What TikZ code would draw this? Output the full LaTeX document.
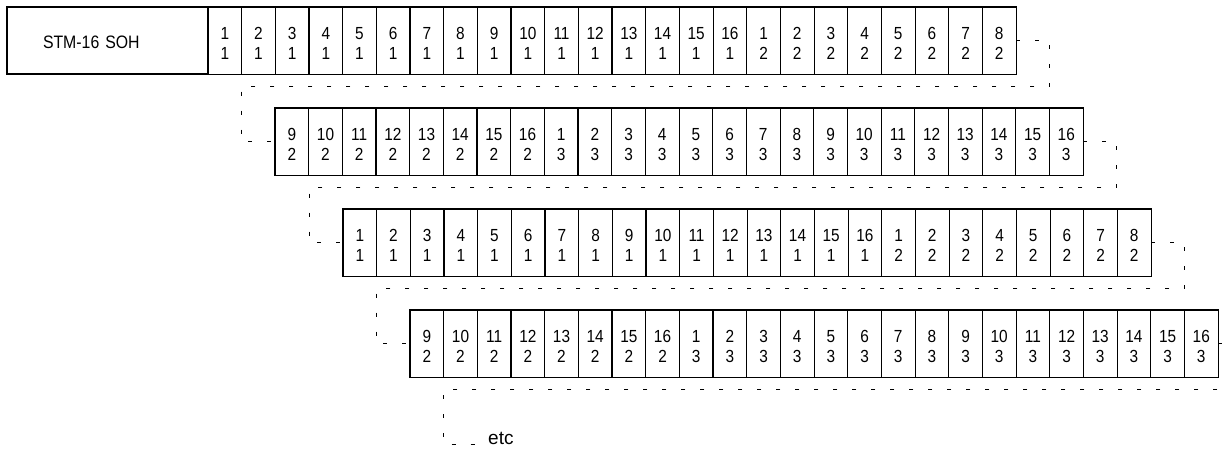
\documentclass[tikz,border=0pt]{standalone}
\usepackage{fontspec}
\setmainfont{Liberation Sans}[FakeStretch=0.88]
\newfontfamily\etcfont{Liberation Sans}
\usetikzlibrary{calc}
\begin{document}
\begin{tikzpicture}[x=1pt,y=-1pt,
  cell/.style={draw, line width=1.1pt, minimum width=33.67pt, minimum height=67.5pt,
    inner sep=0pt, outer sep=0pt, font=\fontsize{17.5}{20}\selectfont, align=center},
  conn/.style={draw, line width=1pt, dash pattern=on 4pt off 15pt}]
\useasboundingbox (0,0) rectangle (1225,448);
\clip (0,0) rectangle (1225,448);
% SOH box
\node[cell, minimum width=201pt, minimum height=67pt, text width=129pt, align=left,
  font=\fontsize{18}{20}\selectfont, anchor=north west] (soh) at (7,7) {\rule{0pt}{17pt}STM-16 SOH};
% cell rows
\foreach \r/\x/\y/\off/\b in {1/208/7/0/1, 2/275/108/8/2, 3/343/209/0/1, 4/410/310/8/2} {
  \foreach \i in {1,...,24} {
    \pgfmathtruncatemacro\nn{\i+\off}
    \pgfmathtruncatemacro\toplab{\nn>16 ? \nn-16 : \nn}
    \pgfmathtruncatemacro\botlab{\nn>16 ? \b+1 : \b}
    \node[cell, anchor=north west] (r\r-\i) at ({\x+(\i-1)*33.67},\y) {\rule{0pt}{17.1pt}\toplab\\\botlab};
  }
}
% connectors
\draw[conn] (r1-24.east) -- ++(33.67,0) |- ([xshift=-33.67pt,yshift=55pt]r2-1.west) |- (r2-1.west);
\draw[conn] (r2-24.east) -- ++(33.67,0) |- ([xshift=-33.67pt,yshift=55pt]r3-1.west) |- (r3-1.west);
\draw[conn] (r3-24.east) -- ++(33.67,0) |- ([xshift=-33.67pt,yshift=55pt]r4-1.west) |- (r4-1.west);
\node[anchor=base west, font=\etcfont\fontsize{19}{20}\selectfont, inner sep=0pt] (etc) at (488,444) {etc};
\coordinate (tail) at (478,444);
\draw[conn] (r4-24.east) -- ++(33.67,0) |- ([xshift=33.67pt,yshift=-46pt]r4-1.west) |- (tail);
\end{tikzpicture}
\end{document}
